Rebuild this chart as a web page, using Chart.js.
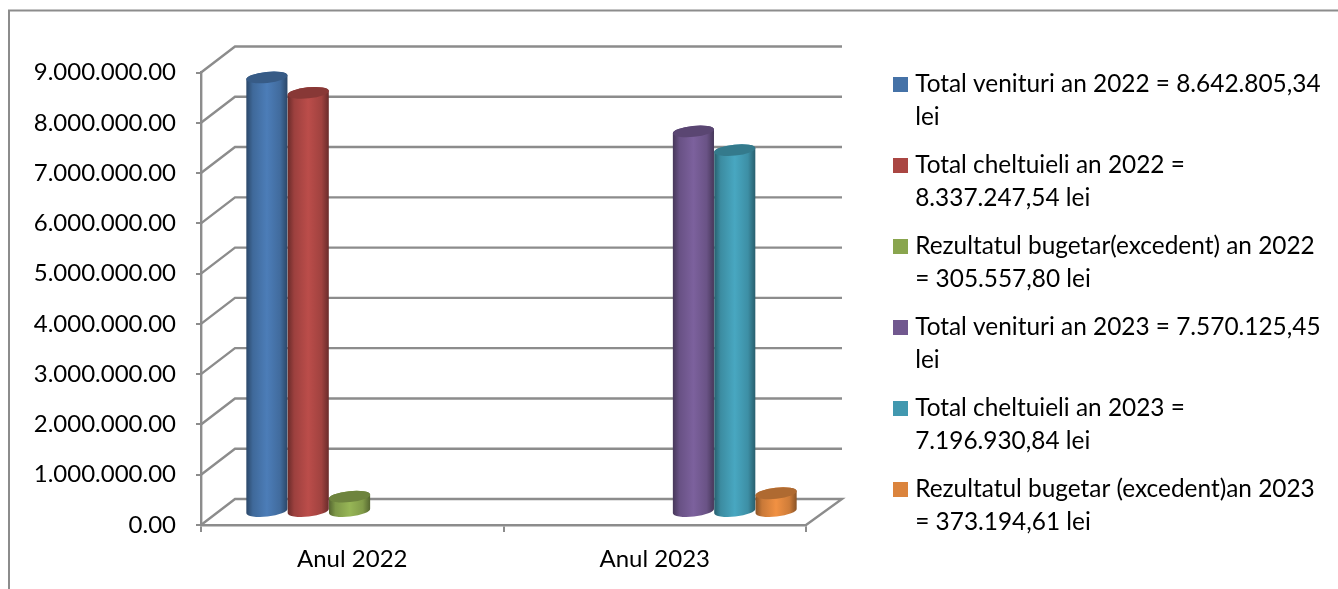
<!DOCTYPE html>
<html><head><meta charset="utf-8">
<script src="https://cdn.jsdelivr.net/npm/chart.js@4"></script>
<style>html,body{margin:0;padding:0;background:#fff;overflow:hidden}canvas{display:block}</style>
</head><body><canvas id="c" width="1338" height="589"></canvas>
<script>
const categories = ['Anul 2022', 'Anul 2023'];
const tickLabels = ['0.00','1.000.000.00','2.000.000.00','3.000.000.00','4.000.000.00','5.000.000.00','6.000.000.00','7.000.000.00','8.000.000.00','9.000.000.00'];
const venituri2022 = [8642805.34, null];
const cheltuieli2022 = [8337247.54, null];
const rezultat2022 = [305557.80, null];
const venituri2023 = [null, 7570125.45];
const cheltuieli2023 = [null, 7196930.84];
const rezultat2023 = [null, 373194.61];
const legendLines = [
  ['Total venituri an 2022 = 8.642.805,34','lei'],
  ['Total cheltuieli an 2022 =','8.337.247,54 lei'],
  ['Rezultatul bugetar(excedent) an 2022','= 305.557,80 lei'],
  ['Total venituri an 2023 = 7.570.125,45','lei'],
  ['Total cheltuieli an 2023 =','7.196.930,84 lei'],
  ['Rezultatul bugetar (excedent)an 2023','= 373.194,61 lei']
];
const colors = ['#4572A7','#AA4643','#89A54E','#71588F','#4198AF','#DB843D'];
const seriesData = [venituri2022,cheltuieli2022,rezultat2022,venituri2023,cheltuieli2023,rezultat2023];

const FONT = 'Lato, Carlito, sans-serif';
const FS_TICK = 24, FS_LEG = 24.4;
const AXIS = '#8c8c8c';
const DEPTH_X = 34, DEPTH_X_RIGHT = 36, DEPTH_Y = -26, BAR_SHIFT = 18;

function shade(hex, f){
  const n = parseInt(hex.slice(1),16);
  const c = [n>>16&255,n>>8&255,n&255].map(v=>Math.min(255,Math.round(v*f)));
  return `rgb(${c[0]},${c[1]},${c[2]})`;
}
function cylinder(ctx, el, color){
  const cx = el.x + BAR_SHIFT, rx = el.width/2, ry = 5.5, rot = -6*Math.PI/180;
  const top = el.y + DEPTH_Y/2, base = el.base + DEPTH_Y/2;
  const g = ctx.createLinearGradient(cx-rx,0,cx+rx,0);
  g.addColorStop(0, shade(color,.62));
  g.addColorStop(.16, shade(color,.92));
  g.addColorStop(.5, shade(color,1.1));
  g.addColorStop(.82, shade(color,.94));
  g.addColorStop(1, shade(color,.62));
  ctx.beginPath();
  ctx.ellipse(cx, base, rx, ry, rot, 0, Math.PI);
  ctx.ellipse(cx, top, rx, ry, rot, Math.PI, 0);
  ctx.closePath();
  ctx.fillStyle = g; ctx.fill();
  ctx.beginPath();
  ctx.ellipse(cx, top, rx, ry, rot, 0, Math.PI*2);
  ctx.fillStyle = shade(color,.8); ctx.fill();
}
const scene = {
  id:'scene',
  beforeDraw(chart){
    const ctx = chart.ctx;
    ctx.save();
    ctx.strokeStyle = AXIS; ctx.lineWidth = 2;
    ctx.beginPath(); ctx.moveTo(9,589); ctx.lineTo(9,10.5); ctx.lineTo(1338,10.5); ctx.stroke();
    ctx.restore();
  },
  afterLayout(chart){
    const l = chart.legend;
    l.left = 881; l.right = 1338; l.top = 56; l.bottom = 589;
  },
  beforeDatasetsDraw(chart){
    const ctx = chart.ctx, ys = chart.scales.y, xs = chart.scales.x;
    ctx.save();
    ctx.strokeStyle = AXIS; ctx.lineWidth = 2.4;
    ys.ticks.forEach(t=>{
      const y = ys.getPixelForValue(t.value);
      ctx.beginPath();
      ctx.moveTo(xs.left,y);
      ctx.lineTo(xs.left+DEPTH_X,y+DEPTH_Y);
      ctx.lineTo(xs.right+DEPTH_X_RIGHT,y+DEPTH_Y);
      if(t.value===0) ctx.lineTo(xs.right,y);
      ctx.stroke();
    });
    chart.data.datasets.forEach((d,i)=>{
      chart.getDatasetMeta(i).data.forEach((el,j)=>{
        if(d.data[j]!==null) cylinder(ctx,el,colors[i]);
      });
    });
    ctx.restore();
    return false;
  }
};
Chart.register(scene);
new Chart(document.getElementById('c'),{
  type:'bar',
  data:{labels:categories,datasets:seriesData.map((data,i)=>({
    label:legendLines[i].join(' '),data,backgroundColor:colors[i],
    categoryPercentage:.82,barPercentage:1
  }))},
  options:{
    responsive:false,animation:false,
    layout:{padding:{left:0,top:72.5,right:132,bottom:0}},
    scales:{
      x:{
        grid:{drawOnChartArea:false,color:AXIS,lineWidth:2,tickLength:7,offset:true},
        border:{color:AXIS,width:2.4},
        ticks:{color:'#000',font:{family:FONT,size:FS_TICK},padding:13,maxRotation:0},
        afterFit(s){s.height=64;}
      },
      y:{
        min:0,max:9000000,
        grid:{drawOnChartArea:false,color:AXIS,lineWidth:2,tickLength:5},
        border:{color:AXIS,width:2.4},
        ticks:{stepSize:1000000,color:'#000',font:{family:FONT,size:FS_TICK},padding:20,
          callback:(v,i)=>tickLabels[i]},
        afterFit(s){s.width=201;}
      }
    },
    plugins:{
      tooltip:{enabled:false},
      legend:{
        position:'right',align:'start',maxWidth:400,
        labels:{
          color:'#000',font:{family:FONT,size:FS_LEG,lineHeight:32.5/FS_LEG},
          padding:16,usePointStyle:true,pointStyleWidth:6,boxHeight:FS_LEG,
          generateLabels(chart){
            return chart.data.datasets.map((d,i)=>{
              const sq=document.createElement('canvas');sq.width=15;sq.height=15;
              const c=sq.getContext('2d');c.fillStyle=colors[i];c.fillRect(0,0,15,15);
              return {text:legendLines[i],fillStyle:colors[i],strokeStyle:colors[i],lineWidth:0,
                pointStyle:sq,datasetIndex:i,hidden:false,fontColor:'#000'};
            });
          }
        }
      }
    }
  }
});
</script></body></html>
